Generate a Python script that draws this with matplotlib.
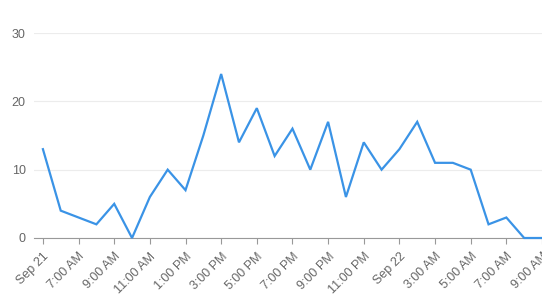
import matplotlib
matplotlib.use('Agg')
import matplotlib.pyplot as plt
import numpy as np

plt.rcParams['font.family'] = ['Liberation Sans', 'DejaVu Sans']

# hourly counts, Sep 21 05:00 .. Sep 22 09:00
hours = np.arange(29)
values = [13, 4, 3, 2, 5, 0, 6, 10, 7, 15, 24, 14, 19, 12, 16, 10, 17, 6,
          14, 10, 13, 17, 11, 11, 10, 2, 3, 0, 0]
tick_pos = np.arange(0, 29, 2)
tick_labels = ['Sep 21', '7:00 AM', '9:00 AM', '11:00 AM', '1:00 PM', '3:00 PM',
               '5:00 PM', '7:00 PM', '9:00 PM', '11:00 PM', 'Sep 22', '3:00 AM',
               '5:00 AM', '7:00 AM', '9:00 AM']

fig = plt.figure(figsize=(5.42, 3.0), dpi=100)
ax = fig.add_axes([34 / 542, 1 - 238 / 300, 1 - 34 / 542, 205 / 300])

ax.plot(hours, values, color='#3a93e6', linewidth=1.6, solid_joinstyle='miter', clip_on=False, zorder=3)

ax.set_xlim(-0.5, 28)
ax.set_ylim(0, 30)
ax.set_yticks([0, 10, 20, 30])
ax.grid(axis='y', color='#ececec', linewidth=0.8)
ax.set_axisbelow(True)

for s in ['top', 'right', 'left']:
    ax.spines[s].set_visible(False)
ax.spines['bottom'].set_color('#999999')
ax.spines['bottom'].set_linewidth(0.8)

ax.set_xticks(tick_pos)
ax.set_xticklabels(tick_labels)
ax.tick_params(axis='x', length=4, color='#999999', labelsize=9, labelcolor='#666666', pad=5)
ax.tick_params(axis='y', length=0, labelsize=9, labelcolor='#666666', pad=6)
for label in ax.get_xticklabels():
    label.set_rotation(45)
    label.set_horizontalalignment('right')
    label.set_rotation_mode('anchor')

fig.savefig('out.png', dpi=100)
